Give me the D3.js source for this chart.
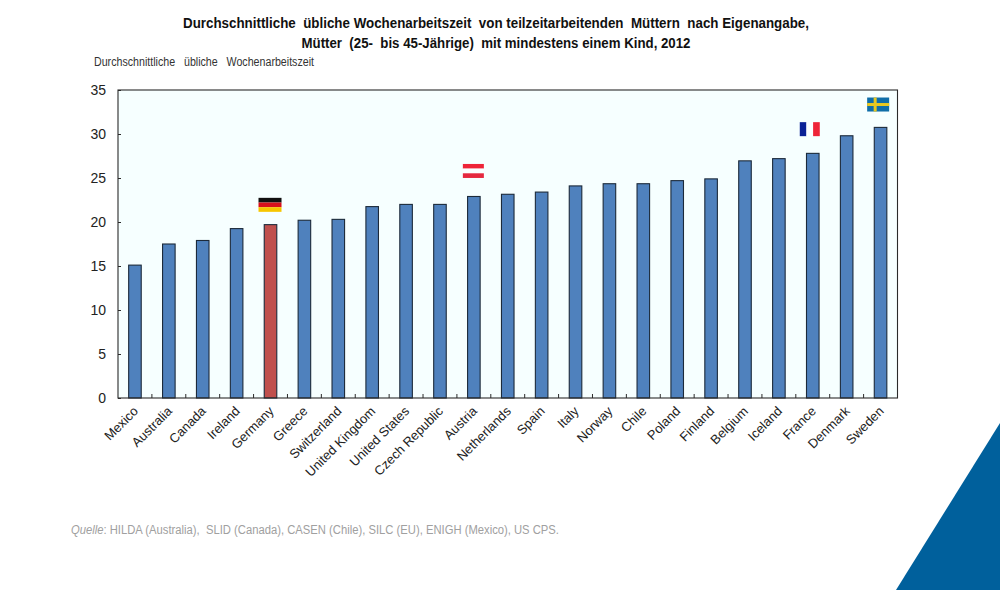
<!DOCTYPE html>
<html><head><meta charset="utf-8">
<script src="https://cdn.jsdelivr.net/npm/d3@7"></script>
<style>html,body{margin:0;padding:0;background:#fff;overflow:hidden}svg{display:block}text{font-family:"Liberation Sans",Arial,sans-serif}</style>
</head><body><svg id="c" width="1000" height="590"></svg>
<script>
const categories=["Mexico","Australia","Canada","Ireland","Germany","Greece","Switzerland","United Kingdom","United States","Czech Republic","Austria","Netherlands","Spain","Italy","Norway","Chile","Poland","Finland","Belgium","Iceland","France","Denmark","Sweden"];
const hours=[15.1,17.5,17.9,19.25,19.7,20.2,20.3,21.75,22,22,22.9,23.15,23.4,24.1,24.35,24.35,24.7,24.9,26.95,27.2,27.8,29.8,30.75];
const highlighted=["Germany"];
const yTicks=[0,5,10,15,20,25,30,35];
const titleLines=["Durchschnittliche  übliche Wochenarbeitszeit  von teilzeitarbeitenden  Müttern  nach Eigenangabe,","Mütter  (25-  bis 45-Jährige)  mit mindestens einem Kind, 2012"];
const titleWidths=[626,389];
const yTitle="Durchschnittliche   übliche   Wochenarbeitszeit";
const sourceLabel="Quelle";
const sourceText=": HILDA (Australia),  SLID (Canada), CASEN (Chile), SILC (EU), ENIGH (Mexico), US CPS.";
const flags=[
 {country:"Germany",level:21.95,stripes:["#111111","#d8101c","#f7c600"],dir:"h",w:23,h:14,shift:-0.5},
 {country:"Austria",level:25.8,stripes:["#ee2438","#fbfeff","#e5283f"],dir:"h",w:21,h:14,shift:-0.5},
 {country:"France",level:30.55,stripes:["#0a2196","#fbfeff","#ee2438"],dir:"v",w:20,h:14,shift:-3},
];
const svg=d3.select("#c");
const L=118,R=897.5,T=90,B=398;
const x=d3.scaleBand().domain(categories).range([L,R]).paddingInner(0.6).paddingOuter(0.3);
const slot=d3.scaleBand().domain(categories).range([L,R]);
const y=d3.scaleLinear().domain([0,35]).range([B,T]);

// corner decoration
svg.append("path").attr("d",d3.line()([[1000,423],[896,590],[1000,590]])+"Z").attr("fill","#00609c");

svg.append("rect").attr("x",L).attr("y",T).attr("width",R-L).attr("height",B-T).attr("fill","#f6ffff");

svg.append("g").selectAll("rect").data(categories).join("rect")
 .attr("x",d=>x(d)+0.5).attr("width",x.bandwidth()-1)
 .attr("y",(d,i)=>y(hours[i])).attr("height",(d,i)=>B-y(hours[i]))
 .attr("fill",d=>highlighted.includes(d)?"#c0504d":"#4f81bd")
 .attr("stroke","#1c2a3a").attr("stroke-width",1.1);

// frame
svg.append("rect").attr("x",L).attr("y",T).attr("width",R-L).attr("height",B-T).attr("fill","none").attr("stroke","#2a2a2a").attr("stroke-width",1.1);

// y axis
const gy=svg.append("g").attr("transform",`translate(${L},0)`).call(d3.axisLeft(y).tickValues(yTicks).tickSize(-3).tickPadding(12));
gy.select(".domain").remove();
gy.selectAll("line").attr("stroke","#2a2a2a");
gy.selectAll("text").attr("font-size",14).attr("fill","#222");

// x axis ticks at category boundaries
svg.append("g").selectAll("line").data(categories.slice(1)).join("line")
 .attr("x1",d=>slot(d)).attr("x2",d=>slot(d)).attr("y1",B).attr("y2",B-4).attr("stroke","#2a2a2a");
// x labels
svg.append("g").selectAll("text").data(categories).join("text")
 .attr("transform",d=>`translate(${slot(d)+slot.bandwidth()/2+4},${B+14}) rotate(-45)`)
 .attr("text-anchor","end").attr("font-size",13).attr("fill","#222").text(d=>d);

// title
svg.append("g").selectAll("text").data(titleLines).join("text")
 .attr("x",496).attr("y",(d,i)=>28+i*20).attr("text-anchor","middle").attr("font-size",13.8).attr("font-weight","bold").attr("fill","#111").style("white-space","pre")
 .attr("textLength",(d,i)=>titleWidths[i]).attr("lengthAdjust","spacingAndGlyphs").text(d=>d);
svg.append("text").attr("x",94).attr("y",66).attr("font-size",12).attr("fill","#333").style("white-space","pre")
 .attr("textLength",220).attr("lengthAdjust","spacingAndGlyphs").text(yTitle);

// source
const src=svg.append("text").attr("x",71).attr("y",534).attr("font-size",12.3).attr("fill","#a0a0a0").style("white-space","pre")
 .attr("textLength",488).attr("lengthAdjust","spacingAndGlyphs");
src.append("tspan").attr("font-style","italic").text(sourceLabel);
src.append("tspan").text(sourceText);

// flags
flags.forEach(f=>{
 const cx=slot(f.country)+slot.bandwidth()/2+f.shift,top=y(f.level)-f.h/2;
 f.stripes.forEach((c,i)=>{
  const g=svg.append("rect").attr("fill",c);
  if(f.dir==="h")g.attr("x",cx-f.w/2).attr("width",f.w).attr("y",top+i*f.h/3).attr("height",f.h/3);
  else g.attr("x",cx-f.w/2+i*f.w/3).attr("width",f.w/3).attr("y",top).attr("height",f.h);
 });
});
// Swedish flag
const sCx=slot("Sweden")+slot.bandwidth()/2-2.4,sCy=y(33.35);
svg.append("rect").attr("x",sCx-11).attr("y",sCy-7).attr("width",22).attr("height",14).attr("fill","#0f6ea8");
svg.append("rect").attr("x",sCx-11).attr("y",sCy-1.5).attr("width",22).attr("height",3).attr("fill","#e8c81e");
svg.append("rect").attr("x",sCx-4.5).attr("y",sCy-7).attr("width",3).attr("height",14).attr("fill","#e8c81e");
</script></body></html>
